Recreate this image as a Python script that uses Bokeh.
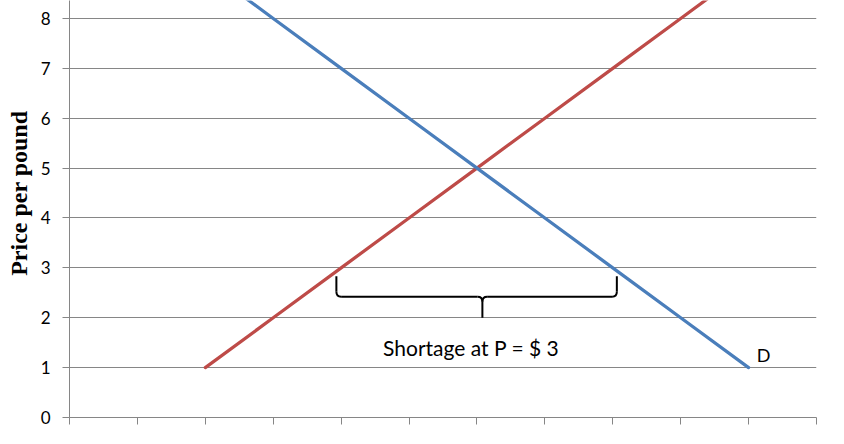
from bokeh.plotting import figure
from bokeh.models import Range1d, FixedTicker, Label, Title
from bokeh.embed import file_html
from bokeh.resources import INLINE

# ---- data ----
supply_q = [2, 3, 4, 5, 6, 7, 8, 9, 10]
supply_p = [1, 2, 3, 4, 5, 6, 7, 8, 9]
demand_q = [2, 3, 4, 5, 6, 7, 8, 9, 10]
demand_p = [9, 8, 7, 6, 5, 4, 3, 2, 1]
y_ticks = [0, 1, 2, 3, 4, 5, 6, 7, 8]
x_ticks = [0, 1, 2, 3, 4, 5, 6, 7, 8, 9, 10, 11]
y_label = "Price per pound"
shortage_text = "Shortage at P = $ 3"
demand_label = "D"
# brace annotation anchors (left, middle, right) and (top, bar, tip)
brace_x = [3.93, 6.08, 8.06]
brace_y = [2.83, 2.42, 2.0]

GRID = "#868686"
BLUE = "#4A7EBB"
RED = "#BE4B48"
FONT = "Lato"

p = figure(width=828, height=428,
           x_range=Range1d(0, 11), y_range=Range1d(0, 8.36),
           output_backend="svg", toolbar_location=None,
           min_border_left=69, min_border_right=12,
           min_border_top=0, min_border_bottom=11)
p.outline_line_color = None
p.background_fill_color = "white"

# axes
p.yaxis.ticker = FixedTicker(ticks=y_ticks)
p.xaxis.ticker = FixedTicker(ticks=x_ticks)
for ax in (p.xaxis[0], p.yaxis[0]):
    ax.axis_line_color = GRID
    ax.major_tick_line_color = GRID
    ax.major_tick_out = 7
    ax.major_tick_in = 0
    ax.minor_tick_line_color = None
p.yaxis.major_label_text_font = FONT
p.yaxis.major_label_text_font_size = "17px"
p.yaxis.major_label_text_color = "#000000"
p.yaxis.major_label_text_line_height = 1.0
p.yaxis.major_label_standoff = 12
p.xaxis.major_label_overrides = {t: "" for t in x_ticks}
p.xaxis.major_label_text_font_size = "1px"
p.xaxis.major_label_standoff = 0

p.xgrid.grid_line_color = None
p.ygrid.ticker = FixedTicker(ticks=y_ticks)
p.ygrid.grid_line_color = GRID
p.ygrid.grid_line_width = 1

# y axis title
p.add_layout(Title(text=y_label, align="right", offset=110,
                   vertical_align="top",
                   text_font="Liberation Serif", text_font_size="24px",
                   text_font_style="bold", text_color="black",
                   standoff=8), "left")

# curves
p.line(supply_q, supply_p, line_color=RED, line_width=3.25, line_cap="round")
p.line(demand_q, demand_p, line_color=BLUE, line_width=3.25, line_cap="round")

# brace
xl, xm, xr = brace_x
yt, yb, ytip = brace_y
dx, dy = 0.07, 0.1
p.segment(x0=[xl, xl + dx, xm + dx, xr, xm],
          y0=[yt, yb, yb, yt, yb - dy],
          x1=[xl, xm - dx, xr - dx, xr, xm],
          y1=[yb + dy, yb, yb, yb + dy, ytip],
          line_color="black", line_width=2)
p.quadratic(x0=[xl, xm - dx, xm + dx, xr - dx],
            y0=[yb + dy, yb, yb, yb],
            cx=[xl, xm, xm, xr],
            cy=[yb, yb, yb, yb],
            x1=[xl + dx, xm, xm, xr],
            y1=[yb, yb - dy, yb - dy, yb + dy],
            line_color="black", line_width=2)

# texts
p.add_layout(Label(x=(xl + xr) / 2 - 0.08, y=1.40, text=shortage_text,
                   text_font=FONT, text_font_size="21px",
                   text_align="center", text_baseline="middle",
                   text_color="black"))
p.add_layout(Label(x=demand_q[-1] + 0.12, y=1.25, text=demand_label,
                   text_font=FONT, text_font_size="18px",
                   text_align="left", text_baseline="alphabetic",
                   text_color="black"))

open("out.html", "w").write(file_html(p, INLINE))
